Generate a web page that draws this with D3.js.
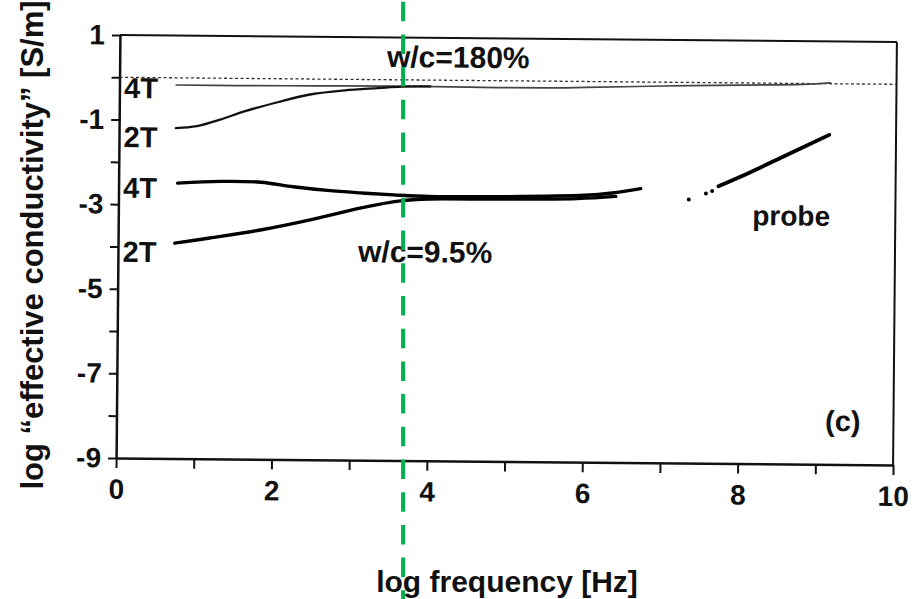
<!DOCTYPE html>
<html>
<head>
<meta charset="utf-8">
<script src="https://cdnjs.cloudflare.com/ajax/libs/d3/7.8.5/d3.min.js"></script>
<style>
  body { margin: 0; background: #fff; }
  svg text { font-family: "Liberation Sans", Arial, Helvetica, sans-serif; font-weight: bold; fill: #111; }
</style>
</head>
<body>
<svg id="chart" width="923" height="599"></svg>
<script>
// w/c = 180%, four-terminal
var f180_4T = [0.73, 1.5, 2.5, 3.5, 4.5, 5.5, 6.0, 7.0, 8.0, 8.8, 9.15];
var c180_4T = [-0.17, -0.17, -0.16, -0.15, -0.16, -0.16, -0.14, -0.09, -0.05, -0.02, 0.02];
// w/c = 180%, two-terminal
var f180_2T = [0.73, 1.0, 1.3, 1.61, 2.05, 2.47, 2.90, 3.33, 3.63, 4.0];
var c180_2T = [-1.19, -1.14, -0.98, -0.78, -0.55, -0.36, -0.26, -0.20, -0.16, -0.15];
// w/c = 9.5%, four-terminal
var f95_4T = [0.76, 1.31, 1.83, 2.25, 2.69, 3.11, 3.54, 4.0, 4.9, 6.0, 6.35, 6.72];
var c95_4T = [-2.49, -2.44, -2.45, -2.55, -2.63, -2.68, -2.72, -2.75, -2.74, -2.69, -2.63, -2.52];
// w/c = 9.5%, two-terminal
var f95_2T = [0.73, 1.18, 1.83, 2.47, 3.11, 3.63, 4.0, 4.9, 5.9, 6.4];
var c95_2T = [-3.91, -3.78, -3.58, -3.33, -3.04, -2.86, -2.81, -2.80, -2.77, -2.71];
// probe
var fProbe = [7.72, 8.0, 8.5, 9.14];
var cProbe = [-2.45, -2.22, -1.78, -1.21];
var fProbeDots = [7.34, 7.56, 7.64];
var cProbeDots = [-2.77, -2.62, -2.56];

// axes
var xTicks = [0, 1, 2, 3, 4, 5, 6, 7, 8, 9, 10];
var yTicks = [1, 0, -1, -2, -3, -4, -5, -6, -7, -8, -9];
var refLevel = 0;
var markerFreq = 3.65;

var plotL = 118, plotR = 895, plotT = 38.5, plotB = 461.5;

var x = d3.scaleLinear().domain([0, 10]).range([plotL, plotR]);
var y = d3.scaleLinear().domain([-9, 1]).range([plotB, plotT]);

var svg = d3.select("#chart");
// the scanned figure is tilted a little
var g = svg.append("g").attr("transform", "rotate(0.52,506.5,250)");

// frame
g.append("line").attr("x1", x(0)).attr("x2", x(10)).attr("y1", y(1)).attr("y2", y(1))
	.style("stroke", "#111").style("stroke-width", 2);
g.append("line").attr("x1", x(10)).attr("x2", x(10)).attr("y1", y(1)).attr("y2", y(-9))
	.style("stroke", "#111").style("stroke-width", 2);

var xAxis = d3.axisBottom(x).tickValues(xTicks).tickSize(10).tickSizeOuter(0).tickPadding(11)
	.tickFormat(function(d) { return d % 2 === 0 ? String(d) : ""; });
var yAxis = d3.axisLeft(y).tickValues(yTicks).tickSize(8).tickSizeOuter(0).tickPadding(7)
	.tickFormat(function(d) { return Math.abs(d) % 2 === 1 ? String(d) : ""; });

var gx = g.append("g").attr("transform", "translate(0," + plotB + ")").call(xAxis);
var gy = g.append("g").attr("transform", "translate(" + plotL + ",0)").call(yAxis);
[gx, gy].forEach(function(a) {
	a.select(".domain").style("stroke", "#111").style("stroke-width", 2.5);
	a.selectAll(".tick line").style("stroke", "#111").style("stroke-width", 2);
	a.selectAll(".tick text").style("font-size", "28px").style("fill", "#111");
	a.attr("font-family", null).attr("font-size", null);
});

// reference dotted line
g.append("line").attr("x1", x(0)).attr("x2", x(10)).attr("y1", y(refLevel)).attr("y2", y(refLevel))
	.style("stroke", "#333").style("stroke-width", 1.3).style("stroke-dasharray", "3,2.5");

var line = d3.line()
	.x(function(d) { return x(d[0]); })
	.y(function(d) { return y(d[1]); })
	.curve(d3.curveCatmullRom.alpha(0.5));

var series = [
	{f: f180_4T, c: c180_4T, w: 1.7, col: "#444"},
	{f: f180_2T, c: c180_2T, w: 2.3, col: "#111"},
	{f: f95_4T, c: c95_4T, w: 3.4, col: "#000"},
	{f: f95_2T, c: c95_2T, w: 3.4, col: "#000"},
	{f: fProbe, c: cProbe, w: 3.8, col: "#000"}
];
series.forEach(function(s) {
	g.append("path")
		.datum(d3.zip(s.f, s.c))
		.attr("d", line)
		.style("fill", "none")
		.style("stroke", s.col)
		.style("stroke-width", s.w)
		.style("stroke-linecap", "round");
});

g.selectAll(".pdot").data(d3.zip(fProbeDots, cProbeDots)).enter().append("circle")
	.attr("class", "pdot")
	.attr("cx", function(d) { return x(d[0]); })
	.attr("cy", function(d) { return y(d[1]); })
	.attr("r", 2)
	.style("fill", "#000");

// annotations
function label(txt, fx, cy, size) {
	g.append("text").attr("x", x(fx)).attr("y", y(cy)).style("font-size", size + "px").text(txt);
}
label("w/c=180%", 3.44, 0.30, 30);
label("w/c=9.5%", 3.09, -4.31, 30);
label("probe", 8.16, -3.36, 28);
label("(c)", 9.12, -8.21, 29);
label("4T", 0.06, -0.49, 29);
label("2T", 0.06, -1.65, 29);
label("4T", 0.06, -2.85, 29);
label("2T", 0.06, -4.36, 29);

// axis titles
svg.append("text")
	.attr("x", 507).attr("y", 592)
	.attr("text-anchor", "middle")
	.style("font-size", "30px")
	.text("log frequency [Hz]");
svg.append("text")
	.attr("transform", "translate(43,245) rotate(-90)")
	.attr("text-anchor", "middle")
	.style("font-size", "31px")
	.text("log \u201Ceffective conductivity\u201D [S/m]");

// green marker line
svg.append("line")
	.attr("x1", x(markerFreq) + 1.5).attr("x2", x(markerFreq) + 1.5)
	.attr("y1", 1.7).attr("y2", 599)
	.style("stroke", "#00b050")
	.style("stroke-width", 4)
	.style("stroke-dasharray", "19.5,13.2");
</script>
</body>
</html>
